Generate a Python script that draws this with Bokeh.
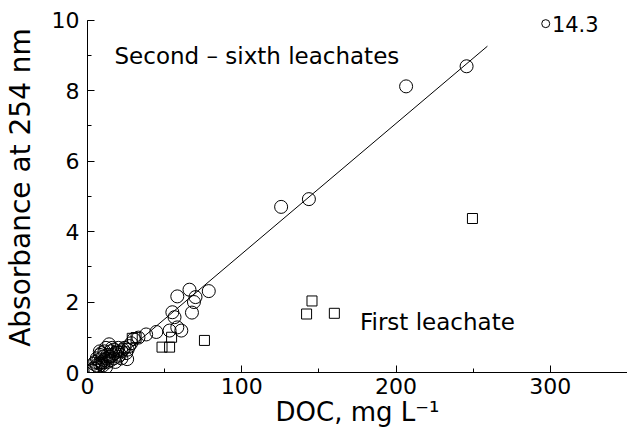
from bokeh.plotting import figure
from bokeh.models import Range1d, SingleIntervalTicker, Label
from bokeh.embed import file_html
from bokeh.resources import INLINE

# Second - sixth leachates (circles)
circ_x = [245.7, 206.5, 143.5, 125.5,
          58.2, 66.1, 78.6, 70.0, 69.0, 67.7, 55.0, 56.4, 53.2, 60.8, 58.2, 44.6,
          38.0, 33.0, 30.0, 28.3, 25.7,
          3, 4, 4, 5, 5, 6, 6, 7, 7, 8, 8, 9, 9, 10, 10, 11, 11, 12, 12, 13, 13,
          14, 14, 15, 15, 16, 16, 17, 17, 18, 18, 19, 20, 20, 21, 22, 22, 23, 24,
          25, 26, 27, 12, 8]
circ_y = [8.69, 8.12, 4.92, 4.70,
          2.16, 2.35, 2.31, 2.14, 2.00, 1.70, 1.71, 1.57, 1.19, 1.19, 1.28, 1.15,
          1.08, 0.99, 0.95, 0.83, 0.38,
          0.05, 0.12, 0.25, 0.10, 0.30, 0.20, 0.40, 0.15, 0.35, 0.25, 0.50, 0.30,
          0.55, 0.20, 0.45, 0.35, 0.60, 0.40, 0.70, 0.30, 0.50, 0.45, 0.80, 0.35,
          0.60, 0.50, 0.70, 0.40, 0.65, 0.55, 0.30, 0.60, 0.45, 0.70, 0.50, 0.60,
          0.40, 0.65, 0.70, 0.55, 0.65, 0.75, 0.15, 0.60]

# First leachate (squares)
sq_x = [249.5, 145.5, 142.0, 160.0, 75.8, 54.5, 48.3, 53.2, 29.0, 31.5, 20.0, 14.0, 9.0]
sq_y = [4.37, 2.03, 1.66, 1.68, 0.91, 1.00, 0.72, 0.72, 0.97, 0.99, 0.60, 0.42, 0.25]

# Regression line end points
fit_x = [9.0, 259.2]
fit_y = [0.0, 9.26]

# Off-scale point marker
off_x = [297.0]
off_y = [9.9]
off_label = "14.3"

x_ticks_interval = 100
y_ticks_interval = 2

FONT = "DejaVu Sans"

p = figure(width=627, height=430, x_range=Range1d(0, 350), y_range=Range1d(0, 10.5),
           output_backend="svg", toolbar_location=None,
           min_border_left=86, min_border_right=0, min_border_top=2, min_border_bottom=58)
p.outline_line_color = None
p.grid.visible = False
p.background_fill_color = "white"

p.xaxis.ticker = SingleIntervalTicker(interval=x_ticks_interval, num_minor_ticks=2)
p.yaxis.ticker = SingleIntervalTicker(interval=y_ticks_interval, num_minor_ticks=2)
p.yaxis.bounds = (0, 10)

for ax in (p.xaxis, p.yaxis):
    ax.axis_line_color = "black"
    ax.axis_line_width = 1
    ax.major_tick_in = 7
    ax.major_tick_out = 0
    ax.minor_tick_in = 4
    ax.minor_tick_out = 0
    ax.major_tick_line_color = "black"
    ax.minor_tick_line_color = "black"
    ax.major_label_text_font = FONT
    ax.major_label_text_font_size = "22px"
    ax.major_label_text_color = "black"
    ax.axis_label_text_font = FONT
    ax.axis_label_text_font_style = "normal"
    ax.axis_label_text_color = "black"

p.xaxis.axis_label = "DOC, mg L\u207b\u00b9"
p.xaxis.axis_label_text_font_size = "26px"
p.xaxis.major_label_standoff = 5
p.xaxis.axis_label_standoff = 0

p.yaxis.axis_label = "Absorbance at 254 nm"
p.yaxis.axis_label_text_font_size = "28px"
p.yaxis.major_label_standoff = 8
p.yaxis.axis_label_standoff = 12

p.line(fit_x, fit_y, line_color="black", line_width=1)
p.scatter(circ_x, circ_y, marker="circle", size=13, fill_alpha=0,
          line_color="black", line_width=1)
p.scatter(sq_x, sq_y, marker="square", size=10, fill_alpha=0,
          line_color="black", line_width=1)
p.scatter(off_x, off_y, marker="circle", size=8, fill_alpha=0,
          line_color="black", line_width=1)

p.add_layout(Label(x=301, y=9.9, text=off_label, text_font=FONT, text_font_size="21px",
                   text_baseline="middle", text_align="left", text_color="black"))
p.add_layout(Label(x=17.5, y=8.98, text="Second \u2013 sixth leachates", text_font=FONT,
                   text_font_size="23px", text_baseline="middle", text_align="left",
                   text_color="black"))
p.add_layout(Label(x=176.6, y=1.42, text="First leachate", text_font=FONT,
                   text_font_size="23px", text_baseline="middle", text_align="left",
                   text_color="black"))

open("out.html", "w").write(file_html(p, INLINE))
